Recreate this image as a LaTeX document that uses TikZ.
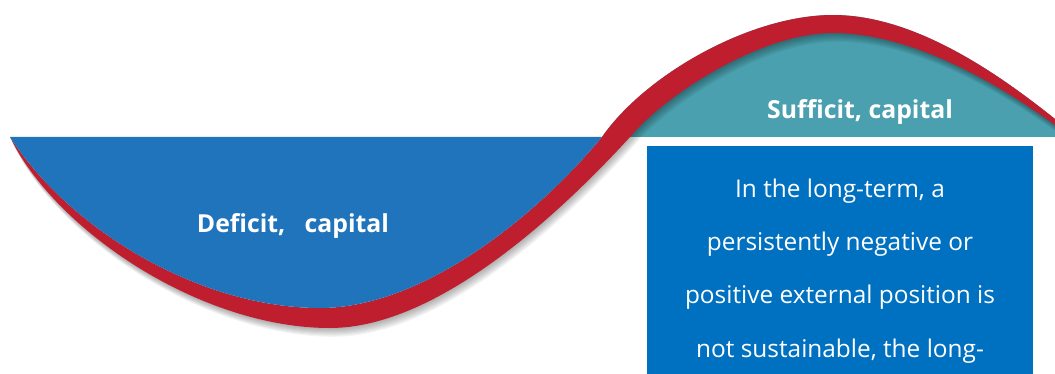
\documentclass[tikz,border=0pt]{standalone}
\usepackage{fontspec}
\setmainfont{Open Sans}
\definecolor{wblue}{RGB}{31,116,187}
\definecolor{wred}{RGB}{190,30,46}
\definecolor{wteal}{RGB}{74,160,174}
\definecolor{bxblue}{RGB}{0,112,192}
\newcommand\redband{(10,137) .. controls (70,230) and (200,308) .. (320,308)
  .. controls (420,308) and (532,221) .. (602,137)
  .. controls (645,75) and (750,15) .. (833,15)
  .. controls (913,15) and (995,71) .. (1055,119)
  -- (1058,121) -- (1058,127) -- (1055,125)
  .. controls (1000,85) and (913,33) .. (833,33)
  .. controls (760,33) and (665,95) .. (630,137)
  .. controls (565,208) and (440,328) .. (330,328)
  .. controls (200,328) and (55,230) .. (10,137) -- cycle}
\begin{document}
\begin{tikzpicture}[x=0.75pt,y=-0.75pt,
  title/.style={text=white,font=\fontsize{18.6}{22}\selectfont\bfseries,anchor=base,inner sep=0pt},
  body/.style={text=white,font=\fontsize{18.3}{22}\selectfont,anchor=base,inner sep=0pt}]
\clip (0,0) rectangle (1055,374);
% teal upper region (under the red band)
\fill[wteal] (602,137) .. controls (645,75) and (750,15) .. (833,15)
  .. controls (913,15) and (995,71) .. (1055,119) -- (1060,119) -- (1060,137) -- cycle;
% shadow of the red band
\foreach \k in {1,...,8}{
  \fill[black,opacity=0.045,shift={(\k*0.5,\k*1.1)}] \redband;
}
% red band
\fill[wred] \redband;
% blue lower region
\fill[wblue] (10,137) -- (602,137) .. controls (532,221) and (420,308) .. (320,308)
  .. controls (200,308) and (70,230) .. (10,137) -- cycle;
% text box
\fill[bxblue] (647,146) rectangle (1033,400);
\node[title] (deficit) at (293,232) {Deficit,\ \ \ capital};
\node[title] (sufficit) at (860,118) {Sufficit, capital};
\node[body] (l1) at (840,197) {In the long-term, a};
\node[body] (l2) at (840,250) {persistently negative or};
\node[body] (l3) at (840,303) {positive external position is};
\node[body] (l4) at (840,357) {not sustainable, the long-};
\end{tikzpicture}
\end{document}
